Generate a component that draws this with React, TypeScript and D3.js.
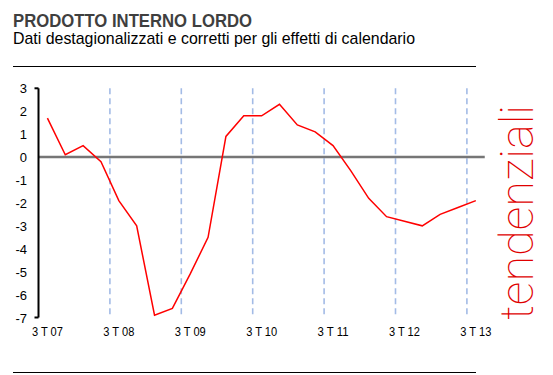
import React, { useEffect, useRef } from 'react';
import * as d3 from 'd3';

const quarters = [
  '3 T 07', '4 T 07', '1 T 08', '2 T 08', '3 T 08', '4 T 08', '1 T 09', '2 T 09', '3 T 09',
  '4 T 09', '1 T 10', '2 T 10', '3 T 10', '4 T 10', '1 T 11', '2 T 11', '3 T 11', '4 T 11',
  '1 T 12', '2 T 12', '3 T 12', '4 T 12', '1 T 13', '2 T 13', '3 T 13',
];
const pil = [
  1.7, 0.1, 0.5, -0.2, -1.9, -3.0, -6.9, -6.6, -5.1, -3.5, 0.9, 1.8, 1.8,
  2.3, 1.4, 1.1, 0.5, -0.6, -1.8, -2.6, -2.8, -3.0, -2.5, -2.2, -1.9,
];
const yTicks = [3, 2, 1, 0, -1, -2, -3, -4, -5, -6, -7];
const labelled = ['3 T 07', '3 T 08', '3 T 09', '3 T 10', '3 T 11', '3 T 12', '3 T 13'];

const W = 553;
const H = 375;

const App: React.FC = () => {
  const svgRef = useRef<SVGSVGElement>(null);

  useEffect(() => {
    if (!svgRef.current) return;
    const svg = d3.select(svgRef.current);
    svg.selectAll('*').remove();

    const x = d3.scaleBand<string>().domain(quarters).range([38.5, 484.75]);
    const y = d3.scaleLinear().domain([-7, 3]).range([317.5, 88.3]);
    const cx = (q: string) => (x(q) as number) + x.bandwidth() / 2;
    const font = '"Liberation Sans", Arial, sans-serif';

    // titles
    svg.append('text')
      .attr('x', 13).attr('y', 26.5)
      .attr('textLength', 239)
      .attr('lengthAdjust', 'spacingAndGlyphs')
      .style('font-family', font)
      .style('font-weight', 'bold')
      .style('font-size', '18px')
      .style('fill', '#3f3f3f')
      .text('PRODOTTO INTERNO LORDO');
    svg.append('text')
      .attr('x', 13).attr('y', 43.5)
      .attr('textLength', 402)
      .attr('lengthAdjust', 'spacingAndGlyphs')
      .style('font-family', font)
      .style('font-size', '17px')
      .style('fill', '#000')
      .text('Dati destagionalizzati e corretti per gli effetti di calendario');

    svg.append('line').attr('x1', 13).attr('x2', 476).attr('y1', 66.5).attr('y2', 66.5)
      .style('stroke', '#000').style('stroke-width', 1);
    svg.append('line').attr('x1', 13).attr('x2', 476).attr('y1', 372.5).attr('y2', 372.5)
      .style('stroke', '#000').style('stroke-width', 1);

    // dashed year separators
    svg.selectAll('.sep')
      .data(labelled.slice(1))
      .enter()
      .append('line')
      .attr('class', 'sep')
      .attr('x1', d => x(d) as number)
      .attr('x2', d => x(d) as number)
      .attr('y1', y(3))
      .attr('y2', y(-7))
      .style('stroke', '#a3bbe6')
      .style('stroke-width', 1.6)
      .style('stroke-dasharray', '6,4');

    // zero line
    svg.append('line')
      .attr('x1', x.range()[0]).attr('x2', x.range()[1])
      .attr('y1', y(0)).attr('y2', y(0))
      .style('stroke', '#767676').style('stroke-width', 2.5);

    // y axis
    const ax = x.range()[0];
    svg.append('line').attr('x1', ax).attr('x2', ax).attr('y1', y(3)).attr('y2', y(-7))
      .style('stroke', '#000').style('stroke-width', 2);
    svg.selectAll('.endtick')
      .data([3, -7])
      .enter()
      .append('line')
      .attr('x1', ax - 4).attr('x2', ax)
      .attr('y1', d => y(d)).attr('y2', d => y(d))
      .style('stroke', '#000').style('stroke-width', 2);

    svg.selectAll('.ylab')
      .data(yTicks)
      .enter()
      .append('text')
      .attr('x', 27)
      .attr('y', d => y(d) + 5)
      .style('text-anchor', 'end')
      .style('font-family', font)
      .style('font-size', '13px')
      .style('fill', '#000')
      .text(d => String(d));

    svg.selectAll('.xlab')
      .data(labelled)
      .enter()
      .append('text')
      .attr('x', d => cx(d) - 15.5)
      .attr('y', 335.5)
      .attr('textLength', 31)
      .attr('lengthAdjust', 'spacingAndGlyphs')
      .style('font-family', font)
      .style('font-size', '13.5px')
      .style('fill', '#000')
      .text(d => d);

    // series
    const line = d3.line<number>()
      .x((_, i) => cx(quarters[i]))
      .y(d => y(d));
    svg.append('path')
      .datum(pil)
      .attr('d', line)
      .style('fill', 'none')
      .style('stroke', '#ff0000')
      .style('stroke-width', 1.5);

    // vertical brand text
    svg.append('text')
      .attr('transform', 'translate(533,320) rotate(-90)')
      .attr('textLength', 215)
      .attr('lengthAdjust', 'spacingAndGlyphs')
      .style('font-family', 'Roboto, "DejaVu Sans", sans-serif')
      .style('font-weight', 100)
      .style('font-size', '46px')
      .style('fill', '#e00000')
      .text('tendenziali');
  }, []);

  return (
    <svg
      ref={svgRef}
      width={W}
      height={H}
      style={{ position: 'absolute', left: 0, top: 0, background: '#fff' }}
    />
  );
};

export default App;
